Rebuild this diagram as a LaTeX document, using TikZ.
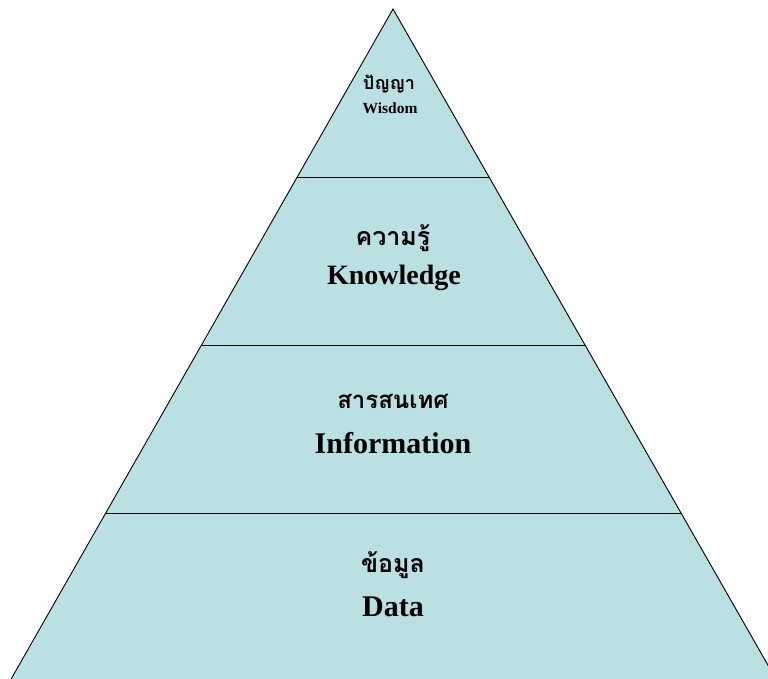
\documentclass[tikz,border=0pt]{standalone}
\usepackage{fontspec}
\setmainfont{Liberation Serif}
\newfontfamily\thaifont[Script=Thai]{Loma}
\usepackage{tikz}
\usetikzlibrary{calc}
\definecolor{pyrfill}{HTML}{BBE0E3}

\begin{document}
\begin{tikzpicture}[x=1pt,y=-1pt,
    thai/.style={font=\thaifont\bfseries\fontsize{#1}{#1}\selectfont,inner sep=0pt},
    eng/.style={font=\bfseries\fontsize{#1}{#1}\selectfont,inner sep=0pt}]
        \useasboundingbox (0,0) rectangle (768,679);
        % corners of the pyramid
        \coordinate (T) at (393,9);
        \coordinate (L) at (10,681);
        \coordinate (R) at (777,681);
        \fill[pyrfill] (T) -- (L) -- (R) -- cycle;
        % band borders
        \foreach \i/\f in {1/0.25,2/0.5,3/0.75}{
          \coordinate (l\i) at ($(T)!\f!(L)$);
          \coordinate (r\i) at ($(T)!\f!(R)$);
          \draw[line width=0.9pt] (l\i) -- (r\i);
        }
        \draw[line width=0.9pt] (L) -- (T) -- (R);
        % labels
        \node[thai=18] (wisT) at (389,84) {ปัญญา};
        \node[eng=15.5] (wisE) at (390,108) {Wisdom};
        \node[thai=25] (knoT) at (393,238) {ความรู้};
        \node[eng=28] (knoE) at (394,278) {Knowledge};
        \node[thai=24] (infT) at (393,401) {สารสนเทศ};
        \node[eng=30] (infE) at (393,443) {Information};
        \node[thai=25] (datT) at (393,565) {ข้อมูล};
        \node[eng=30] (datE) at (393,607) {Data};
      \end{tikzpicture}
\end{document}
